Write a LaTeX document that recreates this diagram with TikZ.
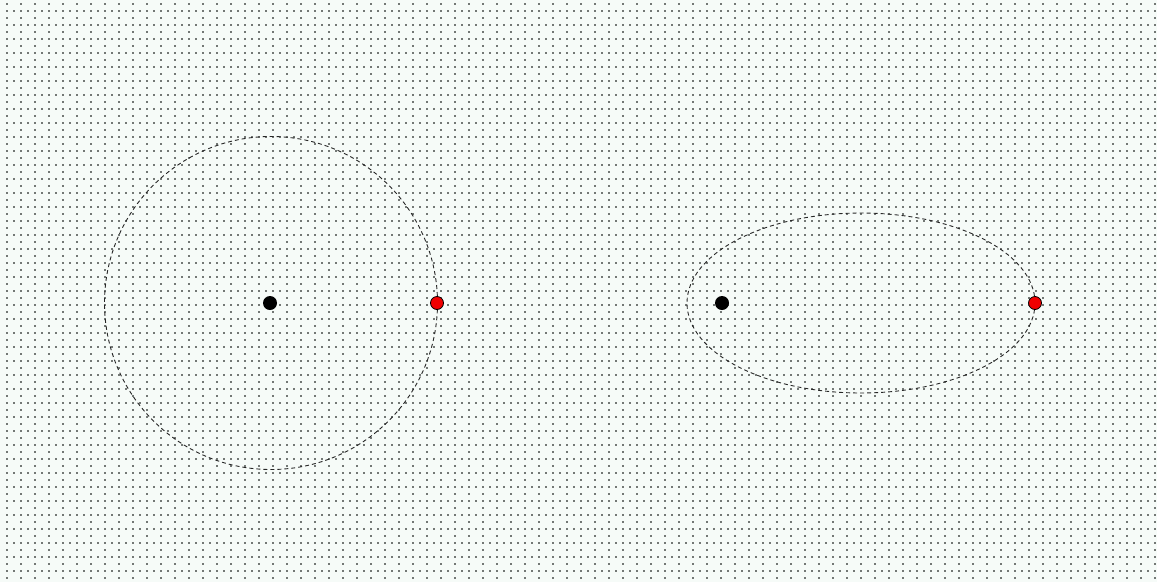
\documentclass[tikz,border=0pt]{standalone}
\usetikzlibrary{shapes.geometric}
\definecolor{bgcol}{RGB}{246,251,248}
\definecolor{gridcol}{RGB}{115,120,117}
\definecolor{planetred}{RGB}{240,0,0}
\tikzset{
  orbitline/.style={draw=black!85, line width=0.9pt, dash pattern=on 4pt off 3pt, inner sep=0pt, fill=none},
  sunbody/.style={circle, fill=black, minimum size=14pt, inner sep=0pt},
  planetbody/.style={circle, fill=planetred, draw=black, line width=0.8pt, minimum size=13pt, inner sep=0pt},
  densegrid/.style={draw=gridcol, line width=1.1pt, dash pattern=on 1.1pt off 5.9pt},
  sparsegrid/.style={draw=gridcol, line width=1.1pt, dash pattern=on 1.1pt off 12.9pt}
}
\begin{document}
\begin{tikzpicture}[x=1pt,y=-1pt]
\fill[bgcol] (0,0) rectangle (1157,582);
\useasboundingbox (0,0) rectangle (1157,582);
\foreach \k in {0,...,82}{
  \pgfmathsetmacro{\yy}{4+7*\k}
  \ifodd\k
    \draw[densegrid] (6.45,\yy) -- (1157,\yy);
  \else
    \draw[sparsegrid] (6.45,\yy) -- (1157,\yy);
  \fi
}
% left: circular orbit
\node[orbitline, circle, minimum size=333pt] (orbitA) at (271,303) {};
\node[sunbody] (sunA) at (270,303) {};
\node[planetbody] (planetA) at (437,303) {};
% right: elliptical orbit
\node[orbitline, ellipse, minimum width=348pt, minimum height=180pt] (orbitB) at (861,303) {};
\node[sunbody] (sunB) at (722,303) {};
\node[planetbody] (planetB) at (1035,303) {};
\end{tikzpicture}
\end{document}
